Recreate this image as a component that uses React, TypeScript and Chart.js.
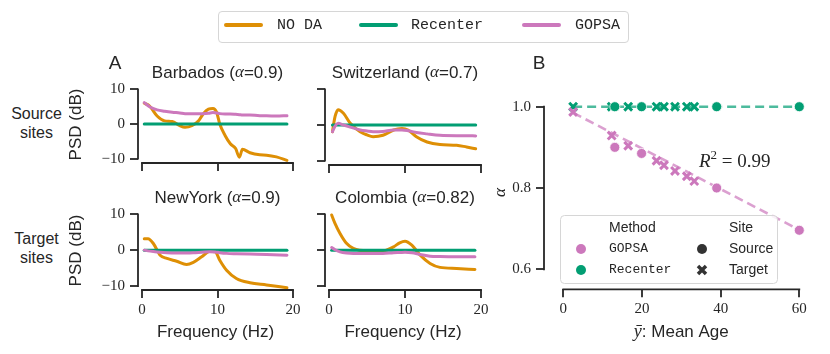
import React, { useEffect, useRef } from 'react';
import { Chart, registerables } from 'chart.js';

Chart.register(...registerables);

const INK = '#262626';
const SANS = '"Liberation Sans", Arial, sans-serif';
const SERIF = '"Liberation Serif", "Times New Roman", serif';
const MONO = '"Liberation Mono", "Courier New", monospace';
const C_NODA = '#DE8F05';
const C_REC = '#029E73';
const C_GOPSA = '#CC78BC';

// ---------------- Panel A data (PSD in dB vs frequency in Hz) ----------------
const siteNames = ['Barbados', 'Switzerland', 'NewYork', 'Colombia'];
const siteAlphaLabels = ['0.9', '0.7', '0.9', '0.82'];
const freqTicks = [0, 10, 20];
const psdTicks = [-10, 0, 10];

const barbadosFreq = [0.3, 1, 2, 3, 4, 5, 5.7, 6.6, 7.5, 8.1, 8.8, 9.4, 9.9, 10.3, 11, 11.7, 12.4, 12.9, 13.3, 14.3, 15.6, 16.5, 17.8, 19.2];
const barbadosNoDA = [6.0, 5.2, 2.3, 0.9, 0.7, -0.5, -0.95, -0.5, 0.95, 2.9, 4.3, 4.5, 3.3, 0.0, -3.3, -5.7, -7.1, -9.6, -7.3, -8.3, -8.9, -9.0, -9.5, -10.5];
const barbadosRecenter = [0, 0, 0, 0, 0, 0, 0, 0, 0, 0, 0, 0, 0, 0, 0, 0, 0, 0, 0, 0, 0, 0, 0, 0];
const barbadosGOPSA = [6.2, 5.0, 4.1, 3.7, 3.4, 3.2, 3.0, 3.0, 3.0, 3.0, 3.1, 3.3, 3.2, 3.0, 2.9, 2.9, 2.8, 2.7, 2.6, 2.6, 2.4, 2.4, 2.3, 2.4];

const switzerlandFreq = [0.45, 0.8, 1.2, 1.9, 2.8, 4.1, 5, 5.8, 7.1, 8.5, 9.6, 10.4, 11.5, 12.9, 14.6, 16.8, 18.1, 19.3];
const switzerlandNoDA = [-1.9, 2.4, 4.3, 3.3, 0.5, -1.9, -2.8, -3.3, -2.9, -1.4, -1.0, -1.4, -3.3, -4.8, -5.5, -5.7, -6.2, -6.7];
const switzerlandRecenter = [0, 0, 0, 0, 0, 0, 0, 0, 0, 0, 0, 0, 0, 0, 0, 0, 0, 0];
const switzerlandGOPSA = [-1.9, -0.3, 0.5, 0.0, -0.6, -1.4, -1.7, -1.9, -1.8, -1.4, -1.4, -1.6, -2.1, -2.5, -2.9, -3.0, -3.0, -3.1];

const newYorkFreq = [0.3, 0.8, 1.5, 2.4, 3.3, 4.6, 5.9, 6.8, 7.9, 9.0, 9.7, 10.3, 11.2, 12.5, 14.3, 16.5, 19.2];
const newYorkNoDA = [3.2, 3.2, 1.85, -1.4, -2.3, -3.1, -4.0, -3.4, -1.85, -0.3, -0.45, -2.8, -5.6, -7.9, -9.1, -9.7, -10.5];
const newYorkRecenter = [0, 0, 0, 0, 0, 0, 0, 0, 0, 0, 0, 0, 0, 0, 0, 0, 0];
const newYorkGOPSA = [0.0, -0.2, -0.4, -0.6, -0.74, -0.8, -0.8, -0.75, -0.6, -0.46, -0.5, -0.7, -0.9, -1.0, -1.1, -1.2, -1.4];

const colombiaFreq = [0.35, 0.8, 1.45, 2.3, 3.2, 5.0, 7.1, 8.5, 9.3, 10.0, 10.9, 12.0, 13.3, 14.6, 16.8, 19.2];
const colombiaNoDA = [9.8, 7.4, 4.65, 1.9, 0.47, -0.2, -0.2, 0.93, 2.05, 2.5, 1.4, -1.4, -3.7, -4.8, -5.1, -5.4];
const colombiaRecenter = [0, 0, 0, 0, 0, 0, 0, 0, 0, 0, 0, 0, 0, 0, 0, 0];
const colombiaGOPSA = [0.74, 0.1, -0.47, -0.8, -0.93, -0.93, -0.93, -0.7, -0.65, -0.6, -0.74, -1.2, -1.7, -1.8, -1.86, -1.86];

// ---------------- Panel B data (alpha vs mean age) ----------------
const targetAges = [2.5, 12.3, 16.5, 23.7, 25.6, 28.4, 31.4, 33.3];
const sourceAges = [13.1, 19.9, 39.0, 60.0];
const gopsaAlphaTarget = [0.987, 0.929, 0.904, 0.867, 0.856, 0.842, 0.829, 0.817];
const gopsaAlphaSource = [0.9, 0.885, 0.8, 0.696];
const recenterAlphaTarget = [1, 1, 1, 1, 1, 1, 1, 1];
const recenterAlphaSource = [1, 1, 1, 1];
const fitAges = [2.5, 60];
const gopsaFit = [0.985, 0.697];
const recenterFit = [1.0, 1.0];
const ageTicks = [0, 20, 40, 60];
const alphaTicks = [0.6, 0.8, 1.0];
const r2Label = '0.99';

// ---------------- layout (pixels) ----------------
const PANEL_LAYOUT = [
  { cv: { x: 66, y: 50, w: 239, h: 127 }, area: { l: 138, r: 293, t: 86, b: 165 }, xPix: [142, 293], yPix: [89.5, 160.5], showY: true, showX: false },
  { cv: { x: 300, y: 50, w: 195, h: 127 }, area: { l: 325, r: 481, t: 86, b: 165 }, xPix: [329, 481], yPix: [89.5, 160.5], showY: false, showX: false },
  { cv: { x: 66, y: 178, w: 239, h: 165 }, area: { l: 138, r: 293, t: 211, b: 290 }, xPix: [142, 293], yPix: [214.3, 286], showY: true, showX: true },
  { cv: { x: 300, y: 178, w: 195, h: 165 }, area: { l: 325, r: 481, t: 211, b: 290 }, xPix: [329, 481], yPix: [214.3, 286], showY: false, showX: true },
];
const B_LAYOUT = { cv: { x: 490, y: 50, w: 335, h: 300 }, area: { l: 544, r: 815, t: 96, b: 289.3 }, xPix: [563.3, 799.3], yPix: [106.7, 269.3] };

const lin = (v0: number, p0: number, v1: number, p1: number, p: number) => v0 + ((p - p0) * (v1 - v0)) / (p1 - p0);
const fmtNum = (v: number) => (v < 0 ? '\u2212' + Math.abs(v) : String(v));

type Seg = { text: string; font: string; dy?: number };
function drawSegments(ctx: CanvasRenderingContext2D, segs: Seg[], x: number, y: number, align: 'center' | 'left') {
  ctx.save();
  ctx.textBaseline = 'middle';
  ctx.fillStyle = INK;
  let total = 0;
  const widths = segs.map((s) => {
    ctx.font = s.font;
    const w = ctx.measureText(s.text).width;
    total += w;
    return w;
  });
  let cx = align === 'center' ? x - total / 2 : x;
  segs.forEach((s, i) => {
    ctx.font = s.font;
    ctx.textAlign = 'left';
    ctx.fillText(s.text, cx, y + (s.dy || 0));
    cx += widths[i];
  });
  ctx.restore();
}

function spines(xFrom: number, xTo: number, yFrom: number, yTo: number) {
  return {
    id: 'spines',
    afterDatasetsDraw(chart: any) {
      const { ctx, chartArea, scales } = chart;
      ctx.save();
      ctx.strokeStyle = INK;
      ctx.lineWidth = 1.8;
      ctx.lineCap = 'square';
      ctx.beginPath();
      ctx.moveTo(chartArea.left, scales.y.getPixelForValue(yFrom));
      ctx.lineTo(chartArea.left, scales.y.getPixelForValue(yTo));
      ctx.moveTo(scales.x.getPixelForValue(xFrom), chartArea.bottom);
      ctx.lineTo(scales.x.getPixelForValue(xTo), chartArea.bottom);
      ctx.stroke();
      ctx.restore();
    },
  };
}

const pts = (xs: number[], ys: number[]) => xs.map((x, i) => ({ x, y: ys[i] }));

const siteSeries = [
  { freq: barbadosFreq, noda: barbadosNoDA, rec: barbadosRecenter, gopsa: barbadosGOPSA },
  { freq: switzerlandFreq, noda: switzerlandNoDA, rec: switzerlandRecenter, gopsa: switzerlandGOPSA },
  { freq: newYorkFreq, noda: newYorkNoDA, rec: newYorkRecenter, gopsa: newYorkGOPSA },
  { freq: colombiaFreq, noda: colombiaNoDA, rec: colombiaRecenter, gopsa: colombiaGOPSA },
];

function tickGrid() {
  return { display: true, drawOnChartArea: false, drawTicks: true, tickLength: 8, tickWidth: 1.8, tickColor: INK, lineWidth: 0 };
}

function makePanel(canvas: HTMLCanvasElement, idx: number) {
  const L = PANEL_LAYOUT[idx];
  const s = siteSeries[idx];
  const Hx = L.showX ? 53 : 12;
  const Wy = L.area.l - L.cv.x;
  const xMin = lin(0, L.xPix[0], 20, L.xPix[1], L.area.l);
  const xMax = lin(0, L.xPix[0], 20, L.xPix[1], L.area.r);
  const yMin = lin(10, L.yPix[0], -10, L.yPix[1], L.area.b);
  const yMax = lin(10, L.yPix[0], -10, L.yPix[1], L.area.t);
  const lineDs = (label: string, data: number[], color: string) => ({
    label,
    data: pts(s.freq, data),
    borderColor: color,
    backgroundColor: color,
    borderWidth: 3,
    pointRadius: 0,
    cubicInterpolationMode: 'monotone',
    borderCapStyle: 'round',
    borderJoinStyle: 'round',
  });
  const titlePlugin = {
    id: 'richTitle',
    afterDraw(chart: any) {
      const f = `17px ${SANS}`;
      drawSegments(
        chart.ctx,
        [
          { text: siteNames[idx] + ' (', font: f },
          { text: '\u03b1', font: `italic 17px ${SERIF}` },
          { text: '=' + siteAlphaLabels[idx] + ')', font: f },
        ],
        chart.scales.x.getPixelForValue(10),
        chart.chartArea.top - 13,
        'center'
      );
    },
  };
  return new Chart(canvas, {
    type: 'line',
    data: {
      datasets: [
        lineDs('GOPSA', s.gopsa, C_GOPSA),
        lineDs('Recenter', s.rec, C_REC),
        lineDs('NO DA', s.noda, C_NODA),
      ] as any,
    },
    options: {
      responsive: false,
      animation: false,
      events: [],
      layout: {
        padding: {
          left: 0,
          top: L.area.t - L.cv.y,
          right: L.cv.x + L.cv.w - L.area.r,
          bottom: L.cv.y + L.cv.h - L.area.b - Hx,
        },
      },
      plugins: { legend: { display: false }, tooltip: { enabled: false } },
      scales: {
        x: {
          type: 'linear',
          min: xMin,
          max: xMax,
          afterBuildTicks: (sc: any) => {
            sc.ticks = freqTicks.map((v) => ({ value: v }));
          },
          afterFit: (sc: any) => {
            sc.height = Hx;
          },
          grid: tickGrid(),
          border: { display: false },
          ticks: {
            display: L.showX,
            autoSkip: false,
            maxRotation: 0,
            padding: 3,
            color: INK,
            font: { family: SERIF, size: 15 },
            callback: (v: any) => fmtNum(Number(v)),
          },
          title: { display: L.showX, text: 'Frequency (Hz)', color: INK, font: { family: SANS, size: 17 }, padding: 0 },
        },
        y: {
          type: 'linear',
          min: yMin,
          max: yMax,
          afterBuildTicks: (sc: any) => {
            sc.ticks = psdTicks.map((v) => ({ value: v }));
          },
          afterFit: (sc: any) => {
            sc.width = Wy;
          },
          grid: tickGrid(),
          border: { display: false },
          ticks: {
            display: L.showY,
            autoSkip: false,
            padding: 5,
            color: INK,
            font: { family: SERIF, size: 15 },
            callback: (v: any) => fmtNum(Number(v)),
          },
          title: { display: L.showY, text: 'PSD (dB)', color: INK, font: { family: SANS, size: 17 }, padding: 0 },
        },
      },
    } as any,
    plugins: [spines(0, 20, -10, 10), titlePlugin],
  });
}

function makeB(canvas: HTMLCanvasElement) {
  const L = B_LAYOUT;
  const Hx = 40;
  const Wy = L.area.l - L.cv.x;
  const xMin = lin(0, L.xPix[0], 60, L.xPix[1], L.area.l);
  const xMax = lin(0, L.xPix[0], 60, L.xPix[1], L.area.r);
  const yMin = lin(1.0, L.yPix[0], 0.6, L.yPix[1], L.area.b);
  const yMax = lin(1.0, L.yPix[0], 0.6, L.yPix[1], L.area.t);
  const circleDs = (label: string, xs: number[], ys: number[], color: string) => ({
    label,
    data: pts(xs, ys),
    pointStyle: 'circle',
    pointRadius: 5,
    backgroundColor: color,
    borderColor: '#ffffff',
    borderWidth: 0.8,
  });
  const crossDs = (label: string, xs: number[], ys: number[], color: string) => ({
    label,
    data: pts(xs, ys),
    pointStyle: 'crossRot',
    pointRadius: 5.5,
    backgroundColor: color,
    borderColor: color,
    borderWidth: 3,
  });
  const fitDs = (label: string, ys: number[], color: string) => ({
    label,
    data: pts(fitAges, ys),
    showLine: true,
    pointRadius: 0,
    borderColor: color,
    borderWidth: 2.6,
    borderDash: [9, 5],
  });
  const overlay = {
    id: 'bOverlay',
    afterDraw(chart: any) {
      const { ctx, chartArea, scales } = chart;
      // x axis label
      drawSegments(
        ctx,
        [
          { text: '\u0233', font: `italic 18px ${SERIF}` },
          { text: ': Mean Age', font: `17px ${SANS}` },
        ],
        scales.x.getPixelForValue(30),
        chartArea.bottom + 43,
        'center'
      );
      // R^2 annotation
      drawSegments(
        ctx,
        [
          { text: 'R', font: `italic 19px ${SERIF}` },
          { text: '2', font: `13px ${SERIF}`, dy: -6 },
          { text: ' = ' + r2Label, font: `19px ${SERIF}` },
        ],
        scales.x.getPixelForValue(34.5),
        scales.y.getPixelForValue(0.864),
        'left'
      );
      // legend
      const bx = chartArea.left + 16;
      const by = chartArea.bottom - 74.3;
      const bw = 217;
      const bh = 68;
      ctx.save();
      ctx.fillStyle = 'rgba(255,255,255,0.85)';
      ctx.strokeStyle = '#d6d6d6';
      ctx.lineWidth = 1;
      ctx.beginPath();
      (ctx as any).roundRect(bx + 0.5, by + 0.5, bw, bh, 4);
      ctx.fill();
      ctx.stroke();
      ctx.fillStyle = INK;
      ctx.textBaseline = 'middle';
      ctx.textAlign = 'left';
      ctx.font = `14px ${SANS}`;
      ctx.fillText('Method', bx + 49, by + 13);
      ctx.fillText('Site', bx + 169, by + 13);
      ctx.fillText('Source', bx + 169, by + 34);
      ctx.fillText('Target', bx + 169, by + 55);
      ctx.font = `13px ${MONO}`;
      ctx.fillText('GOPSA', bx + 49, by + 34);
      ctx.fillText('Recenter', bx + 49, by + 55);
      const dot = (x: number, y: number, c: string) => {
        ctx.beginPath();
        ctx.arc(x, y, 5, 0, Math.PI * 2);
        ctx.fillStyle = c;
        ctx.fill();
      };
      dot(bx + 21, by + 34, C_GOPSA);
      dot(bx + 21, by + 55, C_REC);
      dot(bx + 142, by + 34, '#333333');
      ctx.strokeStyle = '#333333';
      ctx.lineWidth = 3.5;
      ctx.lineCap = 'butt';
      const cx = bx + 142;
      const cy = by + 55;
      ctx.beginPath();
      ctx.moveTo(cx - 4, cy - 4);
      ctx.lineTo(cx + 4, cy + 4);
      ctx.moveTo(cx + 4, cy - 4);
      ctx.lineTo(cx - 4, cy + 4);
      ctx.stroke();
      ctx.restore();
    },
  };
  return new Chart(canvas, {
    type: 'scatter',
    data: {
      datasets: [
        circleDs('GOPSA Source', sourceAges, gopsaAlphaSource, C_GOPSA),
        crossDs('GOPSA Target', targetAges, gopsaAlphaTarget, C_GOPSA),
        circleDs('Recenter Source', sourceAges, recenterAlphaSource, C_REC),
        crossDs('Recenter Target', targetAges, recenterAlphaTarget, C_REC),
        fitDs('GOPSA fit', gopsaFit, 'rgba(204,120,188,0.7)'),
        fitDs('Recenter fit', recenterFit, 'rgba(2,158,115,0.7)'),
      ] as any,
    },
    options: {
      responsive: false,
      animation: false,
      events: [],
      layout: {
        padding: {
          left: 0,
          top: L.area.t - L.cv.y,
          right: L.cv.x + L.cv.w - L.area.r,
          bottom: L.cv.y + L.cv.h - L.area.b - Hx,
        },
      },
      plugins: { legend: { display: false }, tooltip: { enabled: false } },
      scales: {
        x: {
          type: 'linear',
          min: xMin,
          max: xMax,
          afterBuildTicks: (sc: any) => {
            sc.ticks = ageTicks.map((v) => ({ value: v }));
          },
          afterFit: (sc: any) => {
            sc.height = Hx;
          },
          grid: tickGrid(),
          border: { display: false },
          ticks: { autoSkip: false, maxRotation: 0, padding: 3, color: INK, font: { family: SERIF, size: 15 }, callback: (v: any) => String(v) },
        },
        y: {
          type: 'linear',
          min: yMin,
          max: yMax,
          afterBuildTicks: (sc: any) => {
            sc.ticks = alphaTicks.map((v) => ({ value: v }));
          },
          afterFit: (sc: any) => {
            sc.width = Wy;
          },
          grid: tickGrid(),
          border: { display: false },
          ticks: { autoSkip: false, padding: 5, color: INK, font: { family: SERIF, size: 15 }, callback: (v: any) => Number(v).toFixed(1) },
          title: { display: true, text: '\u03b1', color: INK, font: { family: SERIF, size: 17, style: 'italic' }, padding: 0 },
        },
      },
    } as any,
    plugins: [spines(0, 60, 0.6, 1.0), overlay],
  });
}

const legendItems = [
  { label: 'NO DA', color: C_NODA, sw: 224, tx: 277 },
  { label: 'Recenter', color: C_REC, sw: 359, tx: 411 },
  { label: 'GOPSA', color: C_GOPSA, sw: 522, tx: 575 },
];

export default function App() {
  const refs = useRef<(HTMLCanvasElement | null)[]>([]);
  useEffect(() => {
    const charts: Chart[] = [];
    PANEL_LAYOUT.forEach((_, i) => {
      const c = refs.current[i];
      if (c) charts.push(makePanel(c, i));
    });
    const cb = refs.current[4];
    if (cb) charts.push(makeB(cb));
    return () => charts.forEach((c) => c.destroy());
  }, []);

  const rects = [...PANEL_LAYOUT.map((p) => p.cv), B_LAYOUT.cv];
  const abs = (extra: React.CSSProperties): React.CSSProperties => ({ position: 'absolute', ...extra });

  return (
    <div style={{ position: 'fixed', left: 0, top: 0, width: 830, height: 354, background: '#ffffff', color: INK, fontFamily: SANS, overflow: 'hidden' }}>
      {rects.map((r, i) => (
        <canvas
          key={i}
          ref={(el) => {
            refs.current[i] = el;
          }}
          width={r.w}
          height={r.h}
          style={abs({ left: r.x, top: r.y, width: r.w, height: r.h })}
        />
      ))}
      {/* top legend */}
      <div style={abs({ left: 218, top: 11, width: 409, height: 30, border: '1px solid #d6d6d6', borderRadius: 4, background: '#fff' })} />
      {legendItems.map((it) => (
        <React.Fragment key={it.label}>
          <div style={abs({ left: it.sw, top: 22.5, width: 39, height: 4, borderRadius: 2, background: it.color })} />
          <div style={abs({ left: it.tx, top: 26, transform: 'translateY(-50%)', font: `15px ${MONO}`, whiteSpace: 'pre', lineHeight: '18px' })}>{it.label}</div>
        </React.Fragment>
      ))}
      {/* panel letters */}
      <div style={abs({ left: 115, top: 63, transform: 'translate(-50%,-50%)', font: `19px ${SANS}`, lineHeight: '22px' })}>A</div>
      <div style={abs({ left: 539, top: 63, transform: 'translate(-50%,-50%)', font: `19px ${SANS}`, lineHeight: '22px' })}>B</div>
      {/* row labels */}
      <div style={abs({ left: 36.5, top: 122.5, transform: 'translate(-50%,-50%)', font: `16px ${SANS}`, lineHeight: '19px', textAlign: 'center', whiteSpace: 'pre' })}>{'Source\nsites'}</div>
      <div style={abs({ left: 36.5, top: 247.5, transform: 'translate(-50%,-50%)', font: `16px ${SANS}`, lineHeight: '19px', textAlign: 'center', whiteSpace: 'pre' })}>{'Target\nsites'}</div>
    </div>
  );
}
